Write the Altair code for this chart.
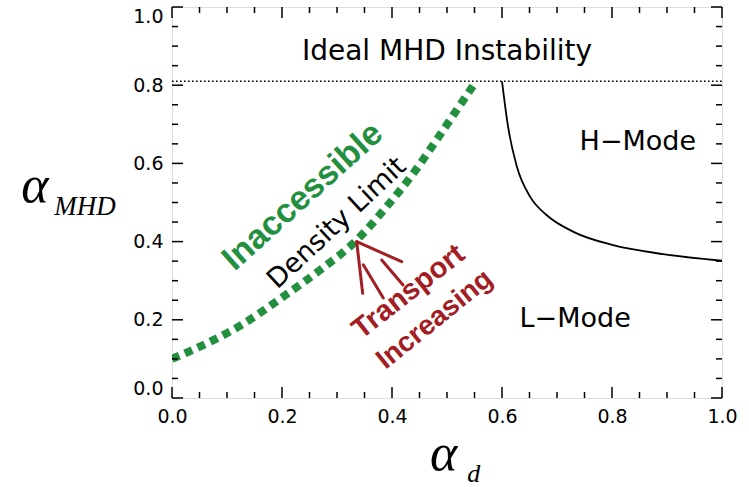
import altair as alt
import pandas as pd

# ---- data ----
# density limit (green dashed) curve
green_x = [0.0, 0.033, 0.13, 0.202, 0.269, 0.336, 0.39, 0.439, 0.481, 0.518, 0.553]
green_y = [0.10, 0.12, 0.19, 0.259, 0.327, 0.404, 0.489, 0.575, 0.66, 0.737, 0.81]
# H-mode / L-mode boundary (black) curve
hl_x = [0.60, 0.611, 0.627, 0.651, 0.681, 0.73, 0.802, 0.893, 1.0]
hl_y = [0.81, 0.694, 0.592, 0.515, 0.468, 0.425, 0.391, 0.368, 0.351]
# ideal MHD limit
mhd_limit = 0.81
# "transport increasing" arrow strokes (x, y, x2, y2)
arrow_x1 = [0.3358, 0.3358, 0.3813, 0.3478]
arrow_y1 = [0.3998, 0.3998, 0.3529, 0.3409]
arrow_x2 = [0.3467, 0.4176, 0.4200, 0.3842]
arrow_y2 = [0.2677, 0.3486, 0.2890, 0.2560]
# ticks
major_ticks = [0.0, 0.2, 0.4, 0.6, 0.8, 1.0]
minor_ticks = [0.05, 0.1, 0.15, 0.25, 0.3, 0.35, 0.45, 0.5, 0.55,
               0.65, 0.7, 0.75, 0.85, 0.9, 0.95]

W, H = 550, 391
GREEN = "#22903E"
RED = "#A31D24"

xs = alt.Scale(domain=[0, 1], nice=False, zero=False)
ys = alt.Scale(domain=[0, 1], nice=False, zero=False)
xaxis = alt.Axis(values=major_ticks, format=".1f", title=None, ticks=False,
                 domain=False, grid=False, labelFont="DejaVu Sans",
                 labelFontSize=19, labelColor="black", labelPadding=9,
                 labelFlush=False)
yaxis = alt.Axis(values=major_ticks, format=".1f", title=None, ticks=False,
                 domain=False, grid=False, labelFont="DejaVu Sans",
                 labelFontSize=19, labelColor="black", labelPadding=9,
                 labelFlush=True)


def X(f):
    return alt.X(f, type="quantitative", scale=xs, axis=xaxis)


def Y(f):
    return alt.Y(f, type="quantitative", scale=ys, axis=yaxis)


green_df = pd.DataFrame({"x": green_x, "y": green_y})
hl_df = pd.DataFrame({"x": hl_x, "y": hl_y})
mhd_df = pd.DataFrame({"x": [0.0, 1.0], "y": [mhd_limit, mhd_limit]})
arrow_df = pd.DataFrame({"x": arrow_x1, "y": arrow_y1, "x2": arrow_x2, "y2": arrow_y2})
major_df = pd.DataFrame({"t": major_ticks})
minor_df = pd.DataFrame({"t": minor_ticks})

green = alt.Chart(green_df).mark_line(
    color=GREEN, strokeWidth=8, strokeDash=[8, 6], interpolate="monotone", clip=True
).encode(x=X("x"), y=Y("y"))

hl = alt.Chart(hl_df).mark_line(
    color="black", strokeWidth=1.8, interpolate="monotone"
).encode(x=X("x"), y=Y("y"))

mhd = alt.Chart(mhd_df).mark_line(
    color="black", strokeWidth=1.4, strokeDash=[1.6, 2.4]
).encode(x=X("x"), y=Y("y"))

arrows = alt.Chart(arrow_df).mark_rule(
    color=RED, strokeWidth=3, strokeCap="round"
).encode(x=X("x"), y=Y("y"), x2="x2", y2="y2")

tick_layers = []
for df, ln in [(major_df, 11), (minor_df, 6)]:
    base = alt.Chart(df).mark_rule(color="black", strokeWidth=1.5)
    tick_layers += [
        base.encode(x=X("t"), y=alt.value(H), y2=alt.value(H - ln)),
        base.encode(x=X("t"), y=alt.value(0), y2=alt.value(ln)),
        base.encode(y=Y("t"), x=alt.value(0), x2=alt.value(ln)),
        base.encode(y=Y("t"), x=alt.value(W), x2=alt.value(W - ln)),
    ]


def label(text, x, y, size, font="DejaVu Sans", color="black", weight="normal",
          angle=0, style="normal", align="center", baseline="middle"):
    df = pd.DataFrame({"x": [x], "y": [y], "label": [text]})
    return alt.Chart(df).mark_text(
        font=font, fontSize=size, color=color, fontWeight=weight, angle=angle,
        fontStyle=style, align=align, baseline=baseline
    ).encode(x=X("x"), y=Y("y"), text="label:N")


texts = [
    label("Ideal MHD Instability", 0.50, 0.885, 28),
    label("H\u2212Mode", 0.847, 0.655, 27),
    label("L\u2212Mode", 0.733, 0.203, 27),
    label("Inaccessible", 0.238, 0.515, 34, font="Liberation Sans", color=GREEN,
          weight="bold", angle=318),
    label("Density Limit", 0.300, 0.447, 27, angle=317),
    label("Transport", 0.43, 0.272, 29, font="Liberation Sans", color=RED,
          weight="bold", angle=322),
    label("Increasing", 0.478, 0.200, 28, font="Liberation Sans", color=RED,
          weight="bold", angle=321),
    # axis titles
    label("\u03b1", -0.274, 0.501, 52, font="Liberation Serif", style="italic",
          align="left", baseline="alphabetic"),
    label("MHD", -0.214, 0.468, 27, font="Liberation Serif", style="italic",
          align="left", baseline="alphabetic"),
    label("\u03b1", 0.469, -0.184, 52, font="Liberation Serif", style="italic",
          align="left", baseline="alphabetic"),
    label("d", 0.537, -0.215, 26, font="Liberation Serif", style="italic",
          align="left", baseline="alphabetic"),
]

chart = alt.layer(
    mhd, hl, green, arrows, *tick_layers, *texts
).properties(
    width=W, height=H,
    autosize=alt.AutoSizeParams(type="none"),
    padding={"left": 172, "top": 7, "right": 27, "bottom": 89},
).configure_view(
    stroke="black", strokeWidth=2
).configure(background="white")

chart.save("out.html", embed_options={"renderer": "svg", "actions": False})
